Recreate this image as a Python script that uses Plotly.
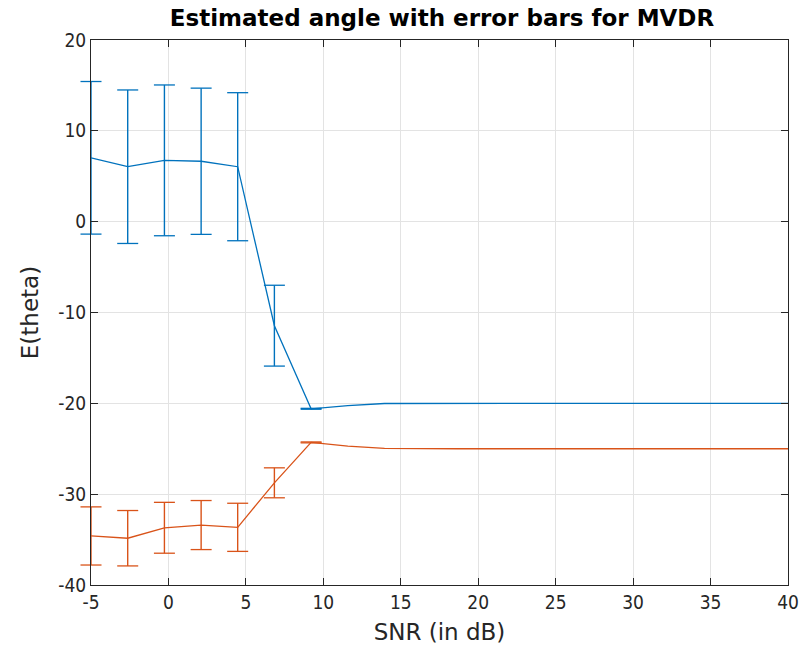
import plotly.graph_objects as go

# SNR sweep (dB)
snr_db = [-5.0, -2.63, -0.26, 2.11, 4.47, 6.84, 9.21, 11.58, 13.95, 16.32,
          18.68, 21.05, 23.42, 25.79, 28.16, 30.53, 32.89, 35.26, 37.63, 40.0]

# Source 1: mean estimated angle and its standard deviation
theta1_mean = [7.03, 6.05, 6.75, 6.65, 6.05, -11.45, -20.6, -20.25, -20.02, -20.0,
               -20.0, -20.0, -20.0, -20.0, -20.0, -20.0, -20.0, -20.0, -20.0, -20.0]
theta1_std = [8.4, 8.45, 8.3, 8.05, 8.15, 4.45, 0.05, 0.0, 0.0, 0.0,
              0.0, 0.0, 0.0, 0.0, 0.0, 0.0, 0.0, 0.0, 0.0, 0.0]

# Source 2: mean estimated angle and its standard deviation
theta2_mean = [-34.6, -34.85, -33.7, -33.4, -33.65, -28.75, -24.3, -24.7, -24.95, -25.0,
               -25.0, -25.0, -25.0, -25.0, -25.0, -25.0, -25.0, -25.0, -25.0, -25.0]
theta2_std = [3.2, 3.05, 2.8, 2.7, 2.65, 1.65, 0.05, 0.0, 0.0, 0.0,
              0.0, 0.0, 0.0, 0.0, 0.0, 0.0, 0.0, 0.0, 0.0, 0.0]

x_ticks = [-5, 0, 5, 10, 15, 20, 25, 30, 35, 40]
x_labels = ["-5", "0", "5", "10", "15", "20", "25", "30", "35", "40"]
y_ticks = [-40, -30, -20, -10, 0, 10, 20]
y_labels = ["-40", "-30", "-20", "-10", "0", "10", "20"]

BLUE = "#0072BD"
ORANGE = "#D95319"
AX = "#262626"
FONT_C = "DejaVu Sans Condensed, DejaVu Sans, sans-serif"
FONT = "DejaVu Sans, sans-serif"

fig = go.Figure()
for mean, std, col in [(theta1_mean, theta1_std, BLUE), (theta2_mean, theta2_std, ORANGE)]:
    # mean curve with vertical error stems
    fig.add_trace(go.Scatter(
        x=snr_db, y=mean, mode="lines",
        line=dict(color=col, width=1.3),
        error_y=dict(type="data", array=std, visible=True, color=col,
                     thickness=1.4, width=0),
        showlegend=False, hoverinfo="skip",
    ))
    # horizontal caps at both ends of each non-zero error bar (unclipped at the edges)
    cap_x, cap_y = [], []
    for x, m, s in zip(snr_db, mean, std):
        if s > 0:
            cap_x += [x, x]
            cap_y += [m + s, m - s]
    fig.add_trace(go.Scatter(
        x=cap_x, y=cap_y, mode="markers",
        marker=dict(symbol="line-ew", size=15, color=col,
                    line=dict(color=col, width=1.3)),
        cliponaxis=False, showlegend=False, hoverinfo="skip",
    ))

axis_common = dict(
    showline=True, linecolor=AX, linewidth=1, mirror="ticks",
    ticks="inside", ticklen=7, tickcolor=AX, tickwidth=1,
    showgrid=True, gridcolor="#e3e3e3", gridwidth=1, zeroline=False,
    tickfont=dict(family=FONT_C, size=19, color=AX),
)

fig.update_layout(
    width=811, height=655,
    margin=dict(l=91, r=13, t=40, b=70),
    paper_bgcolor="white", plot_bgcolor="white",
    title=dict(text="<b>Estimated angle with error bars for MVDR</b>",
               x=0.545, xanchor="center", y=0.972, yanchor="middle",
               font=dict(family=FONT, size=23, color="black")),
    xaxis=dict(range=[-5, 40], tickvals=x_ticks, ticktext=x_labels,
               title=dict(text="SNR (in dB)", font=dict(family=FONT, size=23, color=AX), standoff=12),
               **axis_common),
    yaxis=dict(range=[-40, 20], tickvals=y_ticks, ticktext=y_labels,
               title=dict(text="E(theta)", font=dict(family=FONT, size=23, color=AX), standoff=13),
               **axis_common),
)

fig.write_html("out.html")
